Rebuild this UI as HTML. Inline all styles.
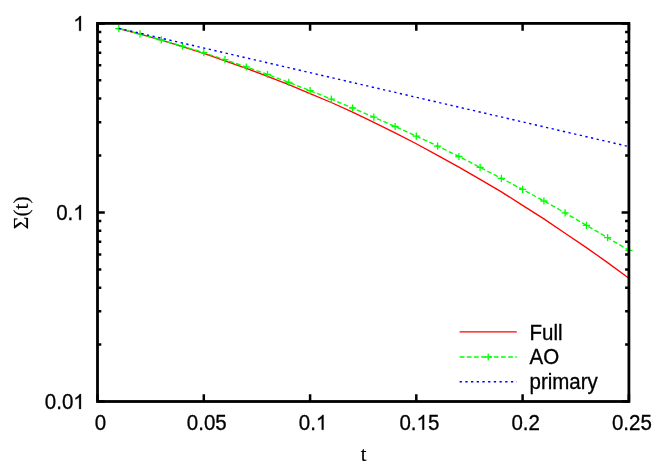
<!DOCTYPE html>
<html><head><meta charset="utf-8"><title>plot</title>
<style>
html,body{margin:0;padding:0;background:#fff;}
svg{display:block;will-change:transform;}
text{font-family:"Liberation Sans",sans-serif;font-size:20.5px;fill:#000;stroke:#000;stroke-width:0.3px;}
.s{font-family:"Liberation Serif",serif;stroke-width:0.15px;}
</style></head>
<body>
<svg width="664" height="464" viewBox="0 0 664 464">
<rect x="0" y="0" width="664" height="464" fill="#fff"/>
<polyline points="118.8,28.6 140.0,34.1 161.3,40.2 182.5,46.6 203.8,53.4 225.0,60.8 246.3,68.3 267.5,76.4 288.8,84.6 310.1,93.6 331.3,102.5 352.6,112.2 373.8,122.3 395.1,132.9 416.3,143.7 437.6,155.4 458.9,167.1 480.1,179.4 501.4,191.9 522.6,205.4 543.9,218.9 565.1,233.2 586.4,247.6 607.6,262.6 628.9,278.2" fill="none" stroke="#ff0000" stroke-width="1.3"/>
<polyline points="118.8,28.6 140.0,33.9 161.3,39.9 182.5,46.2 203.8,52.7 225.0,59.7 246.3,67.0 267.5,74.5 288.8,82.4 310.1,90.7 331.3,99.1 352.6,108.0 373.8,117.2 395.1,126.5 416.3,136.1 437.6,146.1 458.9,156.5 480.1,167.4 501.4,178.3 522.6,189.4 543.9,201.0 565.1,212.9 586.4,225.3 607.6,237.7 628.9,250.4" fill="none" stroke="#00ff00" stroke-width="1.4" stroke-dasharray="4.7 2.5"/>
<path d="M115.2,28.6h7.2M118.8,25.0v7.2M136.4,33.9h7.2M140.0,30.3v7.2M157.7,39.9h7.2M161.3,36.3v7.2M178.9,46.2h7.2M182.5,42.6v7.2M200.2,52.7h7.2M203.8,49.1v7.2M221.4,59.7h7.2M225.0,56.1v7.2M242.7,67.0h7.2M246.3,63.4v7.2M263.9,74.5h7.2M267.5,70.9v7.2M285.2,82.4h7.2M288.8,78.8v7.2M306.5,90.7h7.2M310.1,87.1v7.2M327.7,99.1h7.2M331.3,95.5v7.2M349.0,108.0h7.2M352.6,104.4v7.2M370.2,117.2h7.2M373.8,113.6v7.2M391.5,126.5h7.2M395.1,122.9v7.2M412.7,136.1h7.2M416.3,132.5v7.2M434.0,146.1h7.2M437.6,142.5v7.2M455.3,156.5h7.2M458.9,152.9v7.2M476.5,167.4h7.2M480.1,163.8v7.2M497.8,178.3h7.2M501.4,174.7v7.2M519.0,189.4h7.2M522.6,185.8v7.2M540.3,201.0h7.2M543.9,197.4v7.2M561.5,212.9h7.2M565.1,209.3v7.2M582.8,225.3h7.2M586.4,221.7v7.2M604.0,237.7h7.2M607.6,234.1v7.2M625.3,250.4h7.2M628.9,246.8v7.2" fill="none" stroke="#00ff00" stroke-width="1.3"/>
<line x1="118.8" y1="28.326202308228584" x2="628.9" y2="146.55505770571466" stroke="#0000ff" stroke-width="1.4" stroke-dasharray="2.3 3.47"/>
<line x1="459.6" y1="331.9" x2="516.8" y2="331.9" stroke="#ff0000" stroke-width="1.3"/>
<line x1="459.6" y1="357" x2="491.8" y2="357" stroke="#00ff00" stroke-width="1.4" stroke-dasharray="4.7 2.5"/>
<line x1="493.8" y1="357" x2="516.8" y2="357" stroke="#00ff00" stroke-width="1.4" stroke-dasharray="4.7 2.5"/>
<path d="M484.6,357h7.2M488.2,353.4v7.2" stroke="#00ff00" stroke-width="1.3" fill="none"/>
<line x1="459.6" y1="381.8" x2="516.8" y2="381.8" stroke="#0000ff" stroke-width="1.4" stroke-dasharray="2.3 3.4"/>
<text transform="translate(529.50,339.50) scale(1,1.05)" text-anchor="start">Full</text>
<text transform="translate(529.50,363.60) scale(1,1.05)" text-anchor="start">AO</text>
<text transform="translate(529.50,388.50) scale(1,1.05)" text-anchor="start">primary</text>
<path d="M97.5,401.5v-7.3M97.5,23.4v7.3M203.8,401.5v-7.3M203.8,23.4v7.3M310.1,401.5v-7.3M310.1,23.4v7.3M416.3,401.5v-7.3M416.3,23.4v7.3M522.6,401.5v-7.3M522.6,23.4v7.3M628.9,401.5v-7.3M628.9,23.4v7.3M97.5,23.4h7.3M628.9,23.4h-7.3M97.5,212.5h7.3M628.9,212.5h-7.3M97.5,401.5h7.3M628.9,401.5h-7.3M97.5,155.5h3.8M628.9,155.5h-3.8M97.5,122.3h3.8M628.9,122.3h-3.8M97.5,98.6h3.8M628.9,98.6h-3.8M97.5,80.3h3.8M628.9,80.3h-3.8M97.5,65.3h3.8M628.9,65.3h-3.8M97.5,52.7h3.8M628.9,52.7h-3.8M97.5,41.7h3.8M628.9,41.7h-3.8M97.5,32.1h3.8M628.9,32.1h-3.8M97.5,344.6h3.8M628.9,344.6h-3.8M97.5,311.3h3.8M628.9,311.3h-3.8M97.5,287.7h3.8M628.9,287.7h-3.8M97.5,269.4h3.8M628.9,269.4h-3.8M97.5,254.4h3.8M628.9,254.4h-3.8M97.5,241.7h3.8M628.9,241.7h-3.8M97.5,230.8h3.8M628.9,230.8h-3.8M97.5,221.1h3.8M628.9,221.1h-3.8" stroke="#000" stroke-width="2.5" fill="none"/>
<rect x="97.5" y="23.4" width="531.4" height="378.1" fill="none" stroke="#000" stroke-width="2.8"/>
<path transform="translate(73.30,30.80) scale(0.01001,-0.01051)" d="M763 0H583V1098Q518 1039 412 979Q307 920 223 890V1057Q374 1125 487 1221Q600 1318 647 1409H763Z" fill="#000" stroke="#000" stroke-width="30"/>
<text transform="translate(56.20,219.85) scale(1,1.05)">0.</text>
<path transform="translate(73.30,219.85) scale(0.01001,-0.01051)" d="M763 0H583V1098Q518 1039 412 979Q307 920 223 890V1057Q374 1125 487 1221Q600 1318 647 1409H763Z" fill="#000" stroke="#000" stroke-width="30"/>
<text transform="translate(44.80,408.90) scale(1,1.05)">0.0</text>
<path transform="translate(73.30,408.90) scale(0.01001,-0.01051)" d="M763 0H583V1098Q518 1039 412 979Q307 920 223 890V1057Q374 1125 487 1221Q600 1318 647 1409H763Z" fill="#000" stroke="#000" stroke-width="30"/>
<text transform="translate(100.50,429.70) scale(1,1.05)" text-anchor="middle">0</text>
<text transform="translate(206.78,429.70) scale(1,1.05)" text-anchor="middle">0.05</text>
<text transform="translate(298.81,429.70) scale(1,1.05)">0.</text>
<path transform="translate(315.91,429.70) scale(0.01001,-0.01051)" d="M763 0H583V1098Q518 1039 412 979Q307 920 223 890V1057Q374 1125 487 1221Q600 1318 647 1409H763Z" fill="#000" stroke="#000" stroke-width="30"/>
<text transform="translate(399.39,429.70) scale(1,1.05)">0.</text>
<path transform="translate(416.49,429.70) scale(0.01001,-0.01051)" d="M763 0H583V1098Q518 1039 412 979Q307 920 223 890V1057Q374 1125 487 1221Q600 1318 647 1409H763Z" fill="#000" stroke="#000" stroke-width="30"/>
<text transform="translate(427.89,429.70) scale(1,1.05)">5</text>
<text transform="translate(525.62,429.70) scale(1,1.05)" text-anchor="middle">0.2</text>
<text transform="translate(631.90,429.70) scale(1,1.05)" text-anchor="middle">0.25</text>
<text class="s" x="363.5" y="461" text-anchor="middle">t</text>
<text class="s" style="font-size:20px" transform="translate(27.8,212.7) rotate(-90) scale(1.08,1)" text-anchor="middle">&#931;(t)</text>
</svg>
</body></html>
